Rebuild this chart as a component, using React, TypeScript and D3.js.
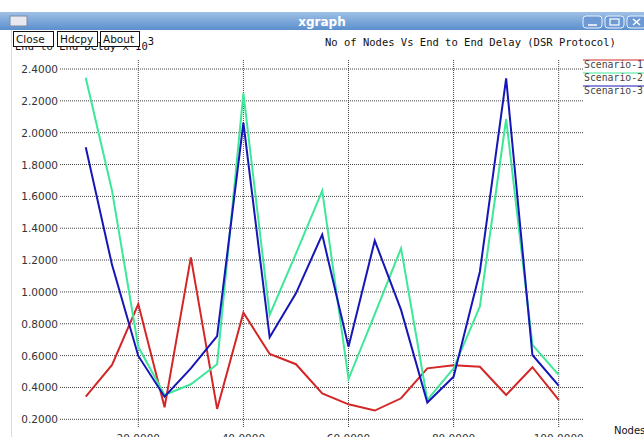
import * as d3 from "d3";

// node counts on the x axis
const nodes = [10, 15, 20, 25, 30, 35, 40, 45, 50, 55, 60, 65, 70, 75, 80, 85, 90, 95, 100];

// end to end delay (x 10^3) per scenario
const scenario1 = [0.342, 0.541, 0.924, 0.275, 1.217, 0.265, 0.87, 0.61, 0.546, 0.363, 0.294, 0.255, 0.332, 0.52, 0.54, 0.53, 0.353, 0.527, 0.322];
const scenario2 = [2.345, 1.635, 0.655, 0.353, 0.42, 0.546, 2.247, 0.855, 1.24, 1.636, 0.453, 0.86, 1.274, 0.322, 0.52, 0.908, 2.086, 0.667, 0.479];
const scenario3 = [1.908, 1.17, 0.598, 0.342, 0.52, 0.723, 2.063, 0.715, 0.991, 1.36, 0.656, 1.322, 0.887, 0.305, 0.468, 1.127, 2.341, 0.604, 0.411];

const seriesNames = ["Scenario-1", "Scenario-2", "Scenario-3"];
const xTicks = [20, 40, 60, 80, 100];
const yTicks = [0.2, 0.4, 0.6, 0.8, 1.0, 1.2, 1.4, 1.6, 1.8, 2.0, 2.2, 2.4];

const COLOURS = ["#d42626", "#3de898", "#1616b8"];
const MONO = "'DejaVu Sans Mono', monospace";
const SANS = "'DejaVu Sans', sans-serif";

const W = 644;
const H = 437;

const App = () => {
  const xScale = d3.scaleLinear().domain([20, 100]).range([138.3, 558.7]);
  const yScale = d3.scaleLinear().domain([0.2, 2.4]).range([419.3, 69]);

  const line = d3
    .line<number>()
    .x((d, i) => xScale(nodes[i]))
    .y((d) => yScale(d));

  const allSeries = [scenario1, scenario2, scenario3];

  const gridLeft = 60;
  const gridRight = 583;
  const gridTop = 60;
  const gridBottom = 427;

  const buttons = [
    { label: "Close", x: 13, w: 40 },
    { label: "Hdcpy", x: 57, w: 40 },
    { label: "About", x: 100, w: 39 },
  ];

  return (
    <svg
      width={W}
      height={H}
      style={{ position: "absolute", left: 0, top: 0, background: "#fff" }}
    >
      <defs>
        <linearGradient id="titlebar" x1="0" x2="0" y1="0" y2="1">
          <stop offset="0" stopColor="#9ec0e6" />
          <stop offset="1" stopColor="#5b8fcc" />
        </linearGradient>
      </defs>

      {/* window chrome */}
      <rect x={0} y={12} width={W} height={18} fill="url(#titlebar)" />
      <rect x={10} y={16} width={17} height={10} fill="#e8e8ee" stroke="#7a8ca8" />
      <text x={322} y={26} textAnchor="middle" fill="#fff" fontFamily={SANS} fontWeight="bold" fontSize={12}>
        xgraph
      </text>
      {[583, 605, 627].map((bx, i) => (
        <g key={bx}>
          <rect x={bx} y={16} width={19} height={12} rx={3} fill="#6d9ad4" stroke="#e8f0fa" strokeWidth={1} />
          {i === 0 && <line x1={bx + 5} x2={bx + 14} y1={25} y2={25} stroke="#fff" strokeWidth={1.5} />}
          {i === 1 && <rect x={bx + 5} y={19} width={9} height={6} fill="none" stroke="#fff" strokeWidth={1.2} />}
          {i === 2 && (
            <path d={`M${bx + 6},19 L${bx + 13},25 M${bx + 13},19 L${bx + 6},25`} stroke="#fff" strokeWidth={1.5} />
          )}
        </g>
      ))}
      <line x1={11.5} x2={11.5} y1={30} y2={H} stroke="#dcdcd4" />

      {/* y label (partly hidden behind buttons) */}
      <text x={15} y={50} fontFamily={MONO} fontSize={10.5} fill="#111">
        End to End Delay x 10
        <tspan dy={-5}>3</tspan>
      </text>

      {buttons.map((b) => (
        <g key={b.label}>
          <rect x={b.x + 0.5} y={31.5} width={b.w} height={15} fill="#fff" stroke="#111" />
          <text x={b.x + 3} y={43} fontFamily={SANS} fontSize={10.5} fill="#111">
            {b.label}
          </text>
        </g>
      ))}

      <text x={325} y={46} fontFamily={MONO} fontSize={10.5} fill="#111">
        No of Nodes Vs End to End Delay (DSR Protocol)
      </text>

      {/* grid */}
      {yTicks.map((t) => (
        <g key={"y" + t}>
          <line
            x1={gridLeft}
            x2={gridRight}
            y1={yScale(t)}
            y2={yScale(t)}
            stroke="#444"
            strokeWidth={1}
            strokeDasharray="1,1"
          />
          <text x={58} y={yScale(t) + 4} textAnchor="end" fontFamily={SANS} fontSize={10.5} fill="#333">
            {t.toFixed(4)}
          </text>
        </g>
      ))}
      {xTicks.map((t) => (
        <g key={"x" + t}>
          <line
            x1={xScale(t)}
            x2={xScale(t)}
            y1={gridTop}
            y2={gridBottom}
            stroke="#444"
            strokeWidth={1}
            strokeDasharray="1,1"
          />
          <text x={xScale(t)} y={442} textAnchor="middle" fontFamily={SANS} fontSize={10.5} fill="#333">
            {t.toFixed(4)}
          </text>
        </g>
      ))}
      <text x={614} y={434} fontFamily={SANS} fontSize={10} fill="#111">
        Nodes
      </text>

      {/* series */}
      {allSeries.map((s, i) => (
        <path
          key={seriesNames[i]}
          d={line(s) || ""}
          fill="none"
          stroke={COLOURS[i]}
          strokeWidth={2}
          strokeLinejoin="miter"
        />
      ))}

      {/* legend */}
      {seriesNames.map((name, i) => (
        <g key={name}>
          <line x1={583} x2={W} y1={60 + i * 13} y2={60 + i * 13} stroke={COLOURS[i]} strokeWidth={1} />
          <text x={584} y={68 + i * 13} fontFamily={MONO} fontSize={9.8} fill="#444">
            {name}
          </text>
        </g>
      ))}
    </svg>
  );
};

export default App;
